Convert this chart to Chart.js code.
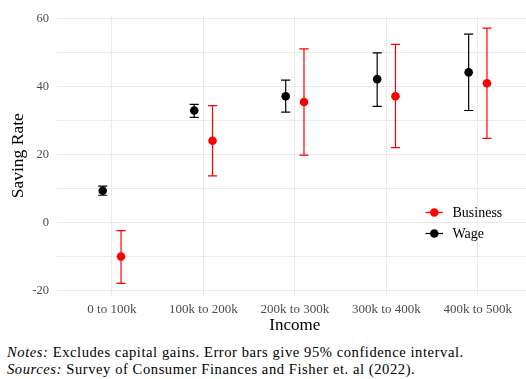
<!DOCTYPE html>
<html>
<head>
<meta charset="utf-8">
<script src="https://cdn.jsdelivr.net/npm/chart.js@4/dist/chart.umd.min.js"></script>
<style>
    body { margin: 0; background: #fff; overflow: hidden; }
    #clip { width: 526px; height: 340px; overflow: hidden; }
    #wrap { position: relative; width: 537px; height: 340px; }
    .notes { font-family: "Liberation Serif", serif; font-size: 14.6px; letter-spacing: 0.56px; color: #000; margin-left: 7px; line-height: 16.5px; white-space: nowrap; }
    .notes i { font-style: italic; }
</style>
</head>
<body>
<div id="clip"><div id="wrap"><canvas id="savingChart"></canvas></div></div>
<div class="notes" style="margin-top: 4px;"><i>Notes:</i> Excludes capital gains. Error bars give 95% confidence interval.</div>
<div class="notes"><i>Sources:</i> Survey of Consumer Finances and Fisher et. al (2022).</div>
<script>
var incomeLabels = ['0 to 100k', '100k to 200k', '200k to 300k', '300k to 400k', '400k to 500k'];

// saving rate and 95% interval, wage earners
var wageRate = [9.3, 32.9, 37.1, 42.1, 44.1];
var wageLow = [8.0, 30.9, 32.4, 34.1, 32.9];
var wageHigh = [10.7, 34.7, 41.8, 49.8, 55.3];

// saving rate and 95% interval, business owners
var businessRate = [-10.0, 24.0, 35.4, 37.1, 40.9];
var businessLow = [-17.9, 13.7, 19.8, 22.0, 24.7];
var businessHigh = [-2.4, 34.3, 51.0, 52.3, 57.1];

var serif = '"Liberation Serif", "DejaVu Serif", serif';
var gridColor = '#ebebeb';
var dodge = 0.1;

function toPoints(values, lows, highs, shift) {
    return values.map((v, i) => ({x: i + shift, y: v, lo: lows[i], hi: highs[i]}));
}

// vertical interval lines with caps, drawn under the points
var errorBars = {
    id: 'errorBars',
    beforeDatasetsDraw(chart) {
        let ctx = chart.ctx;
        let xs = chart.scales.x, ys = chart.scales.y;
        chart.data.datasets.forEach(ds => {
            ctx.save();
            ctx.strokeStyle = ds.borderColor;
            ctx.lineWidth = 1.2;
            ds.data.forEach(p => {
                let x = xs.getPixelForValue(p.x);
                let x0 = xs.getPixelForValue(p.x - 0.05);
                let x1 = xs.getPixelForValue(p.x + 0.05);
                let top = ys.getPixelForValue(p.hi);
                let bottom = ys.getPixelForValue(p.lo);
                ctx.beginPath();
                ctx.moveTo(x, top); ctx.lineTo(x, bottom);
                ctx.moveTo(x0, top); ctx.lineTo(x1, top);
                ctx.moveTo(x0, bottom); ctx.lineTo(x1, bottom);
                ctx.stroke();
            });
            ctx.restore();
        });
    }
};

// legend sitting inside the panel, Business first
var insideLegend = {
    id: 'insideLegend',
    afterDraw(chart) {
        let ctx = chart.ctx;
        let order = [1, 0];
        ctx.save();
        ctx.font = '14px ' + serif;
        ctx.textBaseline = 'middle';
        order.forEach((idx, row) => {
            let ds = chart.data.datasets[idx];
            let y = 212.5 + row * 21;
            ctx.strokeStyle = ds.borderColor;
            ctx.lineWidth = 1.2;
            ctx.beginPath();
            ctx.moveTo(425.5, y); ctx.lineTo(443, y);
            ctx.stroke();
            ctx.fillStyle = ds.backgroundColor;
            ctx.beginPath();
            ctx.arc(434.3, y, 4.3, 0, Math.PI * 2);
            ctx.fill();
            ctx.fillStyle = '#000';
            ctx.fillText(ds.label, 452.5, y + 0.5);
        });
        ctx.restore();
    }
};

var ctx = document.getElementById('savingChart');
var savingChart = new Chart(ctx, {
    type: 'scatter',
    data: {
        datasets: [
            {label: 'Wage', data: toPoints(wageRate, wageLow, wageHigh, -dodge),
             backgroundColor: '#000000', borderColor: '#000000'},
            {label: 'Business', data: toPoints(businessRate, businessLow, businessHigh, dodge),
             backgroundColor: '#ff0000', borderColor: '#ff0000'}
        ]
    },
    options: {
        responsive: true,
        maintainAspectRatio: false,
        animation: false,
        layout: {padding: {top: 15, right: 0, left: 0, bottom: 0}},
        elements: {point: {radius: 4.3, borderWidth: 0, hoverRadius: 4.3}},
        plugins: {legend: {display: false}, tooltip: {enabled: false}},
        scales: {
            x: {
                type: 'linear',
                min: -0.6,
                max: 4.6,
                afterFit(scale) { scale.height = 44; },
                border: {display: false},
                grid: {color: gridColor, lineWidth: 1, drawTicks: false},
                ticks: {
                    stepSize: 1,
                    includeBounds: false,
                    padding: 6,
                    color: '#4d4d4d',
                    font: {family: serif, size: 13},
                    maxRotation: 0,
                    callback: v => incomeLabels[v] || ''
                },
                title: {display: true, text: 'Income', color: '#000',
                        font: {family: serif, size: 17}, padding: {top: 0, bottom: 4}}
            },
            y: {
                min: -21.6,
                max: 60.8,
                afterFit(scale) { scale.width = 57; },
                border: {display: false},
                grid: {color: gridColor, lineWidth: 1, drawTicks: false},
                ticks: {
                    stepSize: 10,
                    includeBounds: false,
                    padding: 8,
                    color: '#4d4d4d',
                    font: {family: serif, size: 12.5},
                    callback: v => (v % 20 === 0 ? v : '')
                },
                title: {display: true, text: 'Saving Rate', color: '#000',
                        font: {family: serif, size: 17.5}, padding: {top: 8, bottom: 0}}
            }
        }
    },
    plugins: [errorBars, insideLegend]
});
</script>
</body>
</html>
